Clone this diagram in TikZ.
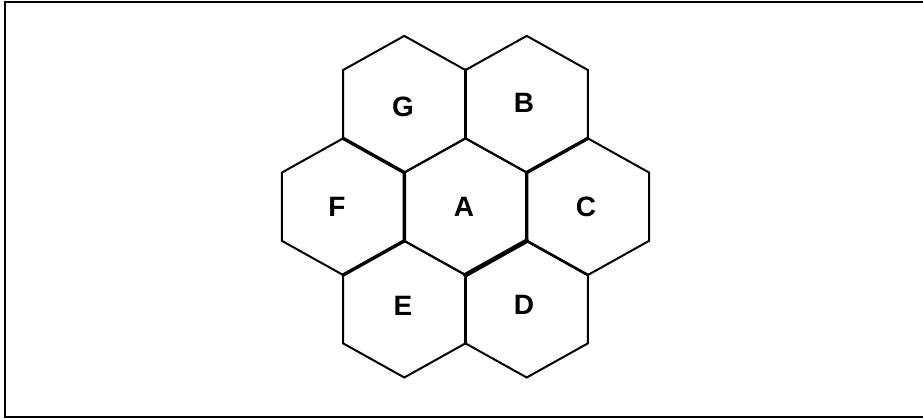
\documentclass[tikz,border=0pt]{standalone}
\usepackage{fontspec}
\setmainfont{Liberation Sans}
\usetikzlibrary{calc}

\newcommand{\hexw}{61.2}
\newcommand{\hexr}{68.3}

\begin{document}
\begin{tikzpicture}[
        x=1pt, y=-1pt,
        cell/.style={draw, line width=2pt, line join=miter},
        border/.style={line width=3.4pt, line cap=round},
        cellname/.style={font=\fontsize{28}{30}\selectfont\bfseries, inner sep=0pt}
    ]
        \useasboundingbox (0,0) rectangle (923,419);

        % Frame, open on the right side
        \draw[line width=2pt] (930,2) -- (5,2) -- (5,417) -- (930,417);

        % Seven hexagonal cells
        \foreach \cx/\cy in {465.5/206.7, 526.7/104.2, 587.9/206.7, 526.7/309.2, 404.3/309.2, 343.1/206.7, 404.3/104.2}
            \draw[cell] (\cx,\cy-\hexr) -- (\cx+\hexw,\cy-\hexr/2) -- (\cx+\hexw,\cy+\hexr/2) -- (\cx,\cy+\hexr) -- (\cx-\hexw,\cy+\hexr/2) -- (\cx-\hexw,\cy-\hexr/2) -- cycle;

        % Corners of cell A and of the cells round it
        \coordinate (At) at (465.5,138.4);
        \coordinate (Aur) at (526.7,172.55);
        \coordinate (Alr) at (526.7,240.85);
        \coordinate (Ab) at (465.5,275);
        \coordinate (All) at (404.3,240.85);
        \coordinate (Aul) at (404.3,172.55);
        \coordinate (GBtop) at (465.5,70.05);
        \coordinate (Gll) at (343.1,138.35);
        \coordinate (Blr) at (587.9,138.35);
        \coordinate (Eul) at (343.1,275.05);
        \coordinate (EDbot) at (465.5,343.35);
        \coordinate (Dur) at (587.9,275.05);

        % Heavier shared borders
        \draw[border] (At) -- (GBtop);
        \draw[border] (Gll) -- (Aul) -- (All) -- (Eul);
        \draw[border] (Blr) -- (Aur) -- (Alr);
        \draw[border] (Ab) -- (EDbot);
        \draw[border, line width=4.6pt] (Ab) -- (Alr);
        \draw[border, line width=2.6pt] (Alr) -- (Dur);

        % Cell names
        \node[cellname] (A) at (464,207) {A};
        \node[cellname] (B) at (524,103) {B};
        \node[cellname] (C) at (586,207) {C};
        \node[cellname] (D) at (524,305) {D};
        \node[cellname] (E) at (403,306) {E};
        \node[cellname] (F) at (337,207) {F};
        \node[cellname] (G) at (403,107) {G};
    \end{tikzpicture}
\end{document}
